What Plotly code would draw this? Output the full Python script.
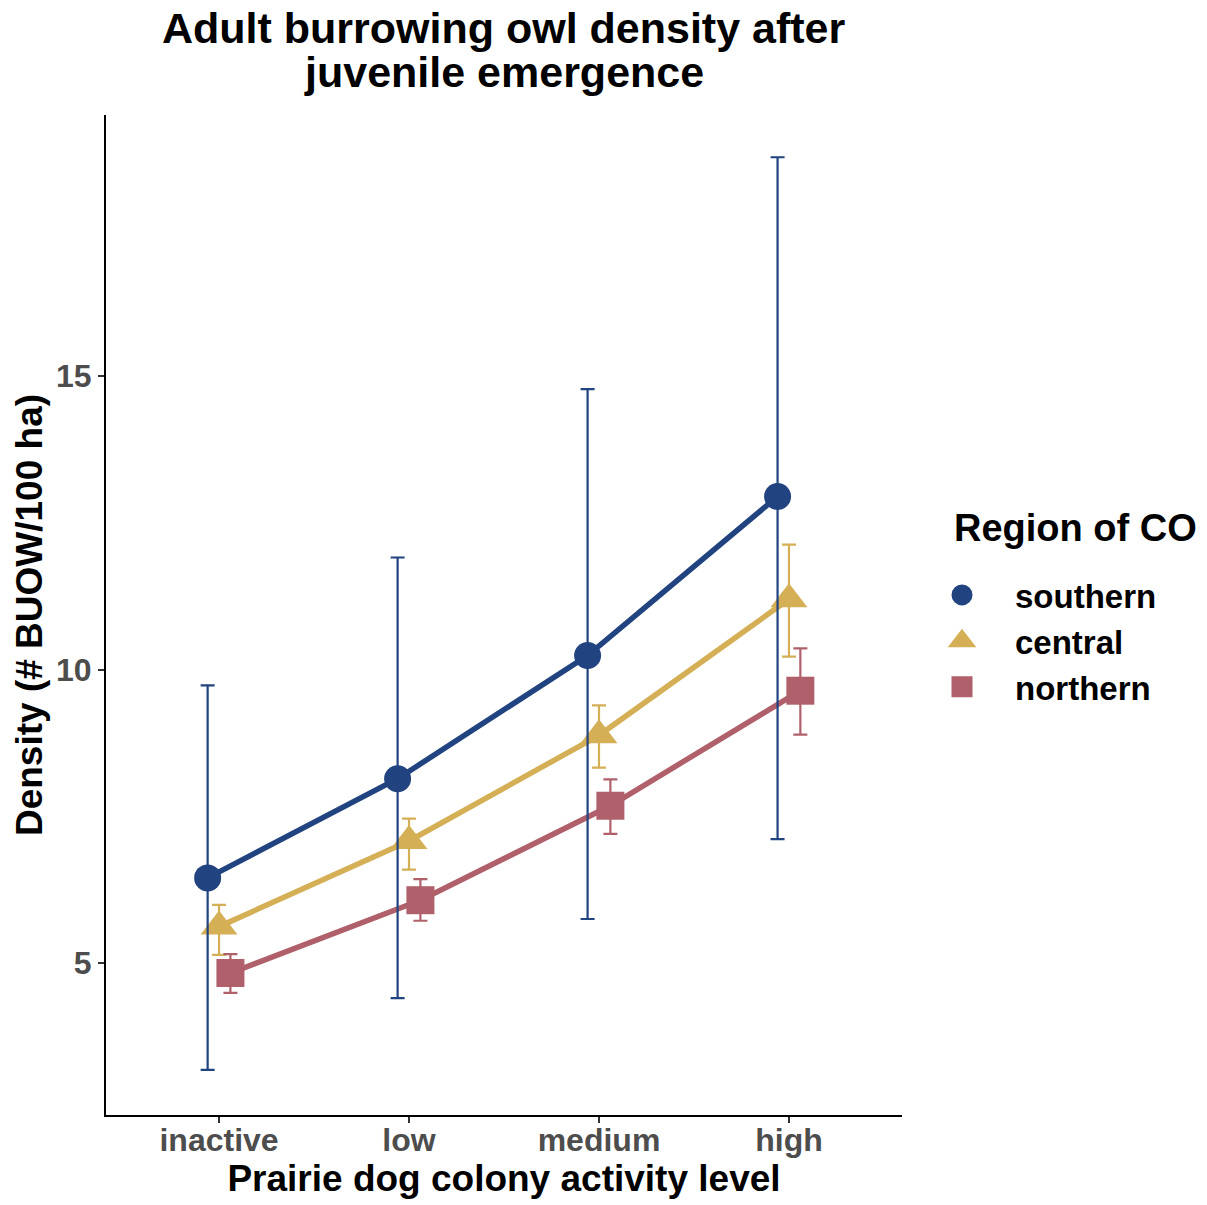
import plotly.graph_objects as go

# ---------------- data ----------------
categories = ["inactive", "low", "medium", "high"]
regions = ["southern", "central", "northern"]

southern_mean = [6.45, 8.14, 10.24, 12.95]
southern_lo = [3.18, 4.40, 5.75, 7.11]
southern_hi = [9.73, 11.91, 14.78, 18.73]

central_mean = [5.62, 7.08, 8.88, 11.20]
central_lo = [5.14, 6.59, 8.33, 10.22]
central_hi = [5.99, 7.46, 9.39, 12.13]

northern_mean = [4.83, 6.07, 7.68, 9.64]
northern_lo = [4.49, 5.72, 7.20, 8.89]
northern_hi = [5.15, 6.43, 8.13, 10.36]

y_ticks = [5, 10, 15]

title_lines = ["Adult burrowing owl density after", "juvenile emergence"]
legend_title = "Region of CO"

# ---------------- styles ----------------
colors = {"southern": "#21437F", "central": "#D4AF55", "northern": "#B0606A"}
symbols = {"southern": "circle", "central": "triangle-up", "northern": "square"}
msizes = {"southern": 27, "central": 32, "northern": 28}
dodge = {"southern": -0.06, "central": 0.0, "northern": 0.06}
FONT = "Liberation Sans, Arial, sans-serif"

series = {
    "southern": (southern_mean, southern_lo, southern_hi),
    "central": (central_mean, central_lo, central_hi),
    "northern": (northern_mean, northern_lo, northern_hi),
}

fig = go.Figure()

# lines + markers
for r in regions:
    mean, lo, hi = series[r]
    xs = [i + dodge[r] for i in range(len(categories))]
    fig.add_trace(go.Scatter(
        x=xs, y=mean, mode="lines+markers", name=r, showlegend=False,
        line=dict(color=colors[r], width=5.5),
        marker=dict(symbol=symbols[r], size=msizes[r], color=colors[r],
                    line=dict(width=0)),
        hoverinfo="skip",
    ))

# error bars drawn on top
for r in regions:
    mean, lo, hi = series[r]
    xs = [i + dodge[r] for i in range(len(categories))]
    fig.add_trace(go.Scatter(
        x=xs, y=mean, mode="markers", showlegend=False,
        marker=dict(size=0.1, opacity=0, color=colors[r]),
        error_y=dict(type="data", symmetric=False,
                     array=[h - m for h, m in zip(hi, mean)],
                     arrayminus=[m - l for m, l in zip(mean, lo)],
                     color=colors[r], thickness=2.2, width=7),
        hoverinfo="skip",
    ))

# legend entries
for r in regions:
    fig.add_trace(go.Scatter(
        x=[None], y=[None], mode="markers", name=r,
        marker=dict(symbol=symbols[r], size=msizes[r], color=colors[r],
                    line=dict(width=5, color=colors[r])),
    ))

annotations = [
    dict(text=f"<b>{title_lines[0]}</b>", x=0.5, xref="paper", xanchor="center",
         y=1.087, yref="paper", yanchor="middle", showarrow=False,
         font=dict(family=FONT, size=43, color="black")),
    dict(text=f"<b>{title_lines[1]}</b>", x=0.5, xref="paper", xanchor="center",
         y=1.043, yref="paper", yanchor="middle", showarrow=False,
         font=dict(family=FONT, size=43, color="black")),
    dict(text=f"<b>{legend_title}</b>", x=1.0628, xref="paper", xanchor="left",
         y=0.587, yref="paper", yanchor="middle", showarrow=False,
         font=dict(family=FONT, size=38, color="black")),
]

fig.update_layout(
    width=1207, height=1205,
    margin=dict(l=106, r=305, t=115, b=90),
    paper_bgcolor="white", plot_bgcolor="white",
    font=dict(family=FONT, color="black"),
    annotations=annotations,
    xaxis=dict(
        range=[-0.595, 3.595], automargin=False,
        tickmode="array", tickvals=list(range(len(categories))), ticktext=categories,
        showgrid=False, zeroline=False,
        showline=True, linecolor="black", linewidth=2,
        ticks="outside", ticklen=6, tickwidth=1.5, tickcolor="#333333",
        ticklabelstandoff=-10,
        tickfont=dict(family=FONT, size=32, color="#4D4D4D", weight="bold"),
        title=dict(text="Prairie dog colony activity level",
                   font=dict(family=FONT, size=37, color="black", weight="bold"),
                   standoff=5),
    ),
    yaxis=dict(
        range=[2.41, 19.45], automargin=False,
        tickmode="array", tickvals=y_ticks, ticktext=[str(t) for t in y_ticks],
        showgrid=False, zeroline=False,
        showline=True, linecolor="black", linewidth=2,
        ticks="outside", ticklen=6, tickwidth=1.5, tickcolor="#333333",
        tickfont=dict(family=FONT, size=32, color="#4D4D4D", weight="bold"),
        title=dict(text="Density (# BUOW/100 ha)",
                   font=dict(family=FONT, size=37, color="black", weight="bold"),
                   standoff=2),
    ),
    legend=dict(
        x=1.0088, xanchor="left", y=0.548, yanchor="top",
        font=dict(family=FONT, size=33, color="black", weight="bold"),
        bgcolor="rgba(0,0,0,0)", itemsizing="trace", itemwidth=96,
    ),
)

fig.write_html("out.html")
